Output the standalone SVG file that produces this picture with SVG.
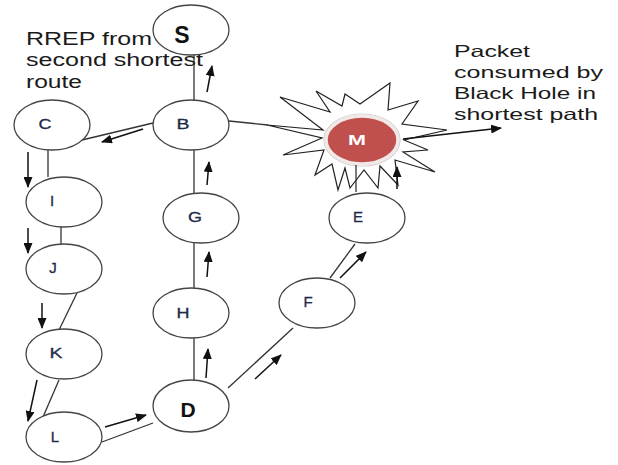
<svg xmlns="http://www.w3.org/2000/svg" width="618" height="465" viewBox="0 0 618 465">
  <defs>
    <marker id="head" markerWidth="11" markerHeight="9" refX="10" refY="4.5" orient="auto" markerUnits="userSpaceOnUse">
      <path d="M0,0 L11,4.5 L0,9 Z" fill="#111"/>
    </marker>
    <style>
      .node { fill: #fff; stroke: #444; stroke-width: 1.3; }
      .link { stroke: #333; stroke-width: 1.3; fill: none; }
      .arrow { stroke: #111; stroke-width: 1.5; fill: none; marker-end: url(#head); }
      .lbl { font-family: "Liberation Sans", Arial, sans-serif; font-size: 15px; fill: #1f2a48; text-anchor: middle; stroke: #1f2a48; stroke-width: 0.3; }
      .big { font-family: "Liberation Sans", Arial, sans-serif; font-weight: bold; fill: #111; text-anchor: middle; }
      .note { font-family: "Liberation Sans", Arial, sans-serif; fill: #1a1a1a; }
    </style>
  </defs>
  <rect width="618" height="465" fill="#fff"/>

  <!-- caption for the alternate route -->
  <g id="note-rrep" class="note" font-size="18">
    <text x="26" y="45" textLength="126" lengthAdjust="spacingAndGlyphs">RREP from</text>
    <text x="26" y="66" textLength="177" lengthAdjust="spacingAndGlyphs">second shortest</text>
    <text x="26" y="88" textLength="56" lengthAdjust="spacingAndGlyphs">route</text>
  </g>

  <!-- caption for the black hole -->
  <g id="note-blackhole" class="note" font-size="16.5">
    <text x="454" y="57" textLength="76" lengthAdjust="spacingAndGlyphs">Packet</text>
    <text x="454" y="78" textLength="149" lengthAdjust="spacingAndGlyphs">consumed by</text>
    <text x="454" y="99" textLength="142" lengthAdjust="spacingAndGlyphs">Black Hole in</text>
    <text x="454" y="120" textLength="144" lengthAdjust="spacingAndGlyphs">shortest path</text>
  </g>

  <!-- malicious node with burst -->
  <g id="node-M">
    <polygon fill="#fff" stroke="#222" stroke-width="1.2" stroke-linejoin="miter"
      points="267,125 323,130 280,97 330,112 316,91 342,106 345,94 360,104 390,83 388,110 418,101 402,124 447,130 404,140 428,150 403,152 435,172 395,160 398,185 380,166 378,188 364,170 350,188 345,168 338,190 332,164 315,175 324,150 283,155 322,138"/>
    <ellipse cx="362" cy="140" rx="38" ry="26" fill="none" stroke="#cfcfcf" stroke-width="1.2"/>
    <ellipse cx="362" cy="140" rx="36" ry="24" fill="#c0504d" stroke="#f2e8e8" stroke-width="3.5"/>
    <text x="357" y="145" class="big" font-size="15" style="fill:#fff" textLength="18" lengthAdjust="spacingAndGlyphs">M</text>
  </g>

  <!-- links between nodes -->
  <g id="connectors">
    <line class="link" x1="194" y1="55" x2="194" y2="100"/>
    <line class="link" x1="153" y1="123" x2="82" y2="140"/>
    <line class="link" x1="229" y1="121" x2="268" y2="125"/>
    <line class="link" x1="48" y1="150" x2="48" y2="177"/>
    <line class="link" x1="61" y1="227" x2="61" y2="244"/>
    <line class="link" x1="77" y1="293" x2="59" y2="330"/>
    <line class="link" x1="59" y1="380" x2="43" y2="417"/>
    <line class="link" x1="102" y1="442" x2="153" y2="423"/>
    <line class="link" x1="194" y1="380" x2="194" y2="338"/>
    <line class="link" x1="194" y1="288" x2="194" y2="243"/>
    <line class="link" x1="194" y1="193" x2="194" y2="150"/>
    <line class="link" x1="228" y1="388" x2="293" y2="328"/>
    <line class="link" x1="330" y1="278" x2="355" y2="244"/>
    <line class="link" x1="356" y1="192" x2="356" y2="165"/>

    <!-- direction arrows -->
    <line class="arrow" x1="207" y1="92" x2="212" y2="66"/>
    <line class="arrow" x1="143" y1="129" x2="102" y2="142"/>
    <line class="arrow" x1="28" y1="152" x2="28" y2="187"/>
    <line class="arrow" x1="28" y1="228" x2="28" y2="253"/>
    <line class="arrow" x1="42" y1="303" x2="42" y2="328"/>
    <line class="arrow" x1="37" y1="380" x2="28" y2="421"/>
    <line class="arrow" x1="105" y1="427" x2="146" y2="415"/>
    <line class="arrow" x1="206" y1="378" x2="208" y2="349"/>
    <line class="arrow" x1="207" y1="277" x2="209" y2="252"/>
    <line class="arrow" x1="207" y1="185" x2="209" y2="162"/>
    <line class="arrow" x1="255" y1="379" x2="281" y2="355"/>
    <line class="arrow" x1="340" y1="278" x2="366" y2="252"/>
    <line class="arrow" x1="397" y1="189" x2="397" y2="167"/>
    <line class="arrow" x1="403" y1="139" x2="501" y2="128"/>
  </g>

  <g id="node-S">
    <ellipse class="node" cx="191" cy="30" rx="38" ry="25"/>
    <text x="182" y="43" class="big" font-size="23">S</text>
  </g>
  <g id="node-B">
    <ellipse class="node" cx="191" cy="125" rx="38" ry="25"/>
    <text x="183" y="129" class="lbl" textLength="13" lengthAdjust="spacingAndGlyphs">B</text>
  </g>
  <g id="node-C">
    <ellipse class="node" cx="52" cy="125" rx="38" ry="25"/>
    <text x="45" y="129" class="lbl" textLength="13" lengthAdjust="spacingAndGlyphs">C</text>
  </g>
  <g id="node-I">
    <ellipse class="node" cx="64" cy="202" rx="38" ry="25"/>
    <text x="52" y="206" class="lbl">I</text>
  </g>
  <g id="node-J">
    <ellipse class="node" cx="64" cy="269" rx="38" ry="25"/>
    <text x="53" y="273" class="lbl">J</text>
  </g>
  <g id="node-K">
    <ellipse class="node" cx="64" cy="354" rx="38" ry="25"/>
    <text x="56" y="358" class="lbl" textLength="13" lengthAdjust="spacingAndGlyphs">K</text>
  </g>
  <g id="node-L">
    <ellipse class="node" cx="64" cy="437" rx="38" ry="25"/>
    <text x="55" y="442" class="lbl">L</text>
  </g>
  <g id="node-D">
    <ellipse class="node" cx="191" cy="406" rx="38" ry="26"/>
    <text x="188" y="417" class="big" font-size="21">D</text>
  </g>
  <g id="node-H">
    <ellipse class="node" cx="191" cy="313" rx="38" ry="25"/>
    <text x="183" y="318" class="lbl" textLength="13" lengthAdjust="spacingAndGlyphs">H</text>
  </g>
  <g id="node-G">
    <ellipse class="node" cx="201" cy="218" rx="38" ry="25"/>
    <text x="195" y="222" class="lbl" textLength="14" lengthAdjust="spacingAndGlyphs">G</text>
  </g>
  <g id="node-F">
    <ellipse class="node" cx="317" cy="303" rx="38" ry="25"/>
    <text x="308" y="307" class="lbl">F</text>
  </g>
  <g id="node-E">
    <ellipse class="node" cx="367" cy="218" rx="38" ry="25"/>
    <text x="358" y="222" class="lbl">E</text>
  </g>
</svg>
